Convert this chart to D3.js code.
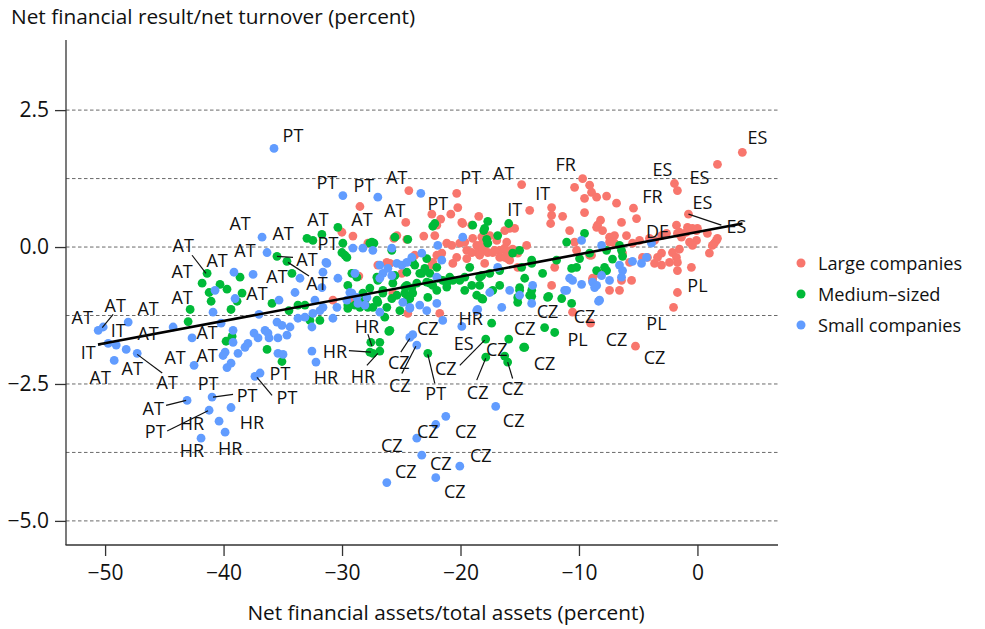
<!DOCTYPE html>
<html><head><meta charset="utf-8">
<script src="https://cdn.jsdelivr.net/npm/d3@7"></script>
<style>body{margin:0;background:#fff}text{font-family:"Open Sans","Noto Sans",sans-serif;fill:#111}</style>
</head><body><svg id="c" width="985" height="629"></svg>
<script>
const seriesNames = ["Large companies","Medium\u2013sized","Small companies"];
const seriesColors = ["#F8766D","#00BA38","#619CFF"];
const xTicks = [-50,-40,-30,-20,-10,0];
const yTicks = [2.5,0,-2.5,-5];
const yGrid = [2.5,1.25,0,-1.25,-2.5,-3.75,-5];
const xTitle = "Net financial assets/total assets (percent)";
const yTitle = "Net financial result/net turnover (percent)";
const fitLine = {x0:-50.6, x1:3.8, intercept:0.274, slope:0.0406};

const largeCompanies = [[3.79,1.73],[1.69,1.51],[-1.94,1.16],[-1.69,1.03],[-0.76,0.60],[-9.69,1.25],[-10.37,1.09],[-9.10,1.13],[-8.94,1.00],[-9.53,0.89],[-8.51,0.91],[-7.67,0.93],[-6.83,0.80],[-5.40,0.71],[-5.14,0.52],[-6.41,0.45],[-8.18,0.49],[-8.43,0.40],[-10.79,0.30],[-9.53,0.63],[-12.31,0.72],[-12.31,0.58],[-12.39,0.43],[-11.38,0.56],[-14.84,1.14],[-14.16,0.67],[-24.36,1.03],[-28.49,0.74],[-24.62,0.45],[-22.42,0.60],[-20.32,0.98],[-20.23,0.72],[-20.82,0.60],[-21.67,0.51],[-19.89,0.45],[-18.46,0.56],[-30.01,0.27],[-29.08,0.20],[-27.82,0.07],[-25.63,0.16],[-25.37,0.21],[-24.53,0.14],[-23.10,0.20],[-22.17,0.21],[-21.16,0.07],[-20.74,0.03],[-20.06,0.07],[-19.64,0.09],[-18.97,0.16],[-18.63,0.03],[-18.21,0.05],[-19.47,-0.06],[-19.05,-0.10],[-18.55,-0.10],[-18.12,-0.06],[-17.70,-0.10],[-17.28,-0.10],[-16.69,-0.06],[-16.10,-0.10],[-15.60,-0.04],[-15.17,-0.11],[-14.42,0.03],[-20.32,-0.19],[-20.65,-0.30],[-21.58,-0.11],[-22.00,-0.15],[-22.42,-0.33],[-19.47,-0.21],[-18.38,-0.15],[-16.69,-0.19],[-16.02,-0.21],[-17.96,-0.30],[-23.86,-0.15],[-25.96,-0.30],[-28.58,-0.53],[-29.34,-0.97],[-25.71,-0.84],[-24.45,-1.21],[-21.75,-1.21],[-30.77,-0.97],[-26.22,-0.28],[-26.98,-0.33],[-24.95,-0.48],[-22.34,-0.28],[-15.85,0.34],[-16.27,0.30],[-15.43,0.34],[-19.81,0.43],[-19.05,0.40],[-22.00,0.40],[-10.37,0.09],[-10.20,-0.06],[-9.10,-0.15],[-8.85,-0.57],[-8.35,-0.48],[-12.05,-0.37],[-12.31,-0.70],[-16.10,0.09],[-16.27,-0.02],[-16.27,-0.19],[-17.11,-0.06],[-16.94,0.12],[-17.96,0.03],[-17.53,0.21],[-18.21,0.18],[-15.85,-0.24],[-15.17,-0.37],[-8.94,-0.15],[-8.51,0.36],[-8.01,0.30],[-7.42,0.18],[-7.00,0.21],[-5.99,0.21],[-7.42,0.09],[-7.00,0.07],[-6.32,-0.11],[-5.73,-0.28],[-4.64,-0.19],[-4.22,-0.19],[-3.62,-0.30],[-3.03,-0.33],[-3.37,-0.19],[-3.03,-0.11],[-2.11,-0.10],[-1.77,-0.19],[-1.69,-0.28],[-2.36,-0.28],[-1.69,-0.43],[-0.51,-0.37],[-1.52,0.27],[-1.35,0.18],[-0.08,0.30],[-0.08,0.12],[-0.67,0.09],[-0.42,0.03],[-1.52,-0.04],[1.01,-0.11],[0.84,0.25],[1.60,0.12],[1.43,0.07],[1.69,0.16],[-1.69,-0.83],[-2.02,-1.10],[-5.48,0.07],[-4.89,0.12],[-4.05,0.16],[-3.62,0.12],[-6.41,-0.61],[-6.58,-0.79],[-8.85,-0.61],[-7.42,-0.79],[-5.56,-0.61],[-0.93,0.27],[-2.61,0.25],[-3.03,0.21],[-1.69,0.25],[-0.84,0.36],[0.00,0.34],[-0.42,0.34],[-1.77,0.40],[1.26,0.03],[-9.02,-1.39],[-5.23,-1.81],[-10.54,-1.19]];

const mediumSized = [[-35.49,-0.17],[-34.65,-0.26],[-41.39,-0.48],[-38.61,-0.55],[-41.81,-0.66],[-40.30,-0.68],[-39.71,-0.77],[-38.44,-0.84],[-41.22,-0.83],[-41.05,-0.99],[-38.86,-0.99],[-39.37,-1.14],[-35.91,-1.03],[-42.82,-1.14],[-42.99,-1.36],[-34.48,-1.16],[-39.28,-1.63],[-39.79,-1.72],[-36.33,-1.87],[-35.07,-2.09],[-25.80,-0.06],[-25.54,0.18],[-27.48,0.09],[-30.01,-0.10],[-29.93,0.07],[-29.17,-0.48],[-28.75,-0.55],[-27.06,-0.55],[-26.98,-0.61],[-29.51,-0.70],[-27.65,-0.75],[-26.55,-0.79],[-24.53,-0.70],[-24.11,-0.75],[-23.69,-0.66],[-23.27,-0.48],[-22.59,-0.48],[-23.01,-0.39],[-22.00,-0.37],[-24.03,-0.28],[-24.28,-0.94],[-24.70,-0.84],[-25.37,-0.88],[-25.80,-0.94],[-27.06,-0.97],[-27.40,-1.10],[-27.82,-1.10],[-28.49,-1.10],[-28.91,-1.06],[-29.51,-1.06],[-28.24,-0.84],[-25.12,-1.16],[-26.39,-1.28],[-25.96,-1.52],[-31.87,-1.34],[-32.71,-1.34],[-33.72,-1.06],[-31.70,0.23],[-30.35,0.36],[-32.96,0.16],[-32.46,0.12],[-27.65,0.07],[-27.31,0.07],[-29.76,-0.15],[-29.59,-0.19],[-24.45,0.14],[-22.34,0.38],[-18.97,0.40],[-17.70,0.47],[-18.04,0.30],[-17.79,0.14],[-16.86,0.21],[-15.93,0.43],[-15.60,-0.11],[-14.84,-0.37],[-14.58,-0.57],[-15.01,-0.74],[-13.99,-0.24],[-18.21,-0.52],[-19.05,-0.70],[-19.64,-0.79],[-18.63,-0.88],[-18.21,-0.94],[-17.28,-0.79],[-22.85,-0.21],[-23.86,-0.33],[-24.53,-0.46],[-23.44,-0.48],[-22.85,-0.64],[-22.34,-0.70],[-21.92,-0.57],[-21.16,-0.66],[-20.65,-0.61],[-20.06,-0.61],[-19.64,-0.55],[-25.54,-0.52],[-24.03,-0.84],[-24.53,-0.97],[-24.70,-0.73],[-25.71,-0.66],[-26.55,-0.84],[-28.07,-0.97],[-28.66,-1.01],[-26.22,-1.10],[-22.76,-0.92],[-22.00,-0.79],[-29.51,-1.12],[-26.98,-1.01],[-33.13,-1.06],[-34.23,-0.48],[-22.17,0.43],[-17.96,0.34],[-17.70,0.07],[-15.01,-0.06],[-13.99,-0.30],[-13.07,-0.48],[-11.04,0.09],[-9.53,0.25],[-9.95,-0.21],[-10.20,-0.37],[-10.62,-0.39],[-11.89,-0.24],[-19.22,-0.37],[-18.38,-0.55],[-17.53,-0.48],[-16.69,-0.43],[-20.91,-0.55],[-21.50,-0.61],[-22.59,-0.66],[-21.16,-0.73],[-18.38,-0.70],[-16.69,-0.70],[-15.01,-0.79],[-15.17,-0.92],[-14.16,-0.88],[-18.12,-0.95],[-12.65,-0.92],[-11.46,-0.94],[-17.37,-1.39],[-12.90,-1.47],[-7.67,-0.06],[-6.58,0.03],[-6.41,-0.06],[-6.32,-0.17],[-7.17,-0.22],[-7.84,-0.37],[-8.51,-0.43],[-7.67,-0.43],[-9.10,-0.11],[-12.05,-1.56],[-14.67,-1.83],[-13.99,-0.79],[-13.99,-0.90],[-10.62,-1.03],[-12.56,-0.90],[-27.57,-1.74],[-26.81,-1.74],[-27.65,-1.92],[-26.81,-1.90],[-27.40,-1.94],[-26.05,-1.54],[-22.76,-1.94],[-17.87,-1.68],[-15.93,-1.68],[-14.58,-1.83],[-17.87,-2.01],[-16.27,-1.99],[-16.02,-2.10],[-15.17,-1.01]];

const smallCompanies = [[-50.58,-1.52],[-50.16,-1.46],[-48.05,-1.37],[-44.26,-1.46],[-42.66,-1.66],[-40.21,-1.39],[-37.01,-1.23],[-49.74,-1.76],[-49.06,-1.79],[-48.22,-1.87],[-47.29,-1.94],[-49.23,-2.07],[-42.49,-2.16],[-39.87,-1.92],[-40.04,-1.98],[-39.71,-2.20],[-39.37,-2.12],[-39.20,-1.52],[-39.20,-1.74],[-38.78,-1.94],[-38.19,-1.83],[-37.94,-1.76],[-37.43,-1.57],[-37.09,-1.66],[-36.50,-1.52],[-36.25,-1.57],[-36.16,-1.66],[-35.49,-1.37],[-35.07,-1.43],[-35.41,-1.66],[-34.65,-1.61],[-35.41,-1.94],[-34.98,-1.96],[-37.35,-2.36],[-36.92,-2.30],[-43.08,-2.80],[-40.97,-2.74],[-39.37,-2.93],[-41.22,-2.98],[-40.38,-3.18],[-39.87,-3.38],[-41.90,-3.49],[-35.32,-0.97],[-36.75,0.18],[-36.33,-0.10],[-39.12,-0.46],[-37.51,-0.50],[-40.72,-0.79],[-39.03,-0.94],[-40.89,-1.19],[-35.74,1.80],[-29.93,0.94],[-26.98,0.91],[-23.35,0.98],[-31.36,-0.28],[-33.55,-0.57],[-30.35,-0.57],[-33.97,-0.83],[-29.34,-0.83],[-28.75,-0.92],[-27.90,-0.92],[-29.59,-0.97],[-30.43,-1.10],[-31.61,-1.10],[-31.87,-1.16],[-32.46,-1.21],[-33.13,-1.28],[-33.72,-1.30],[-34.39,-1.46],[-32.54,-1.46],[-30.77,-1.30],[-26.55,-0.48],[-26.13,-0.39],[-25.37,-0.30],[-24.95,-0.33],[-24.53,-0.28],[-24.11,-0.19],[-25.80,-0.52],[-26.81,-0.57],[-28.66,-1.03],[-24.87,-1.01],[-24.28,-1.10],[-23.44,-1.06],[-22.85,-1.16],[-22.00,-1.03],[-27.40,-0.06],[-23.27,-0.11],[-21.92,0.03],[-21.58,-0.24],[-22.00,-0.55],[-19.81,0.18],[-16.86,-0.37],[-15.85,-0.79],[-13.91,-0.70],[-15.01,-0.88],[-17.53,-0.83],[-18.63,-1.16],[-25.80,-0.02],[-28.24,-0.02],[-29.08,-0.02],[-26.81,-0.33],[-28.91,-0.48],[-29.17,-0.84],[-31.28,-0.30],[-31.61,-0.46],[-31.70,-0.74],[-32.29,-0.97],[-28.07,-1.06],[-26.81,-1.19],[-24.28,-1.12],[-13.99,-1.03],[-16.52,-1.10],[-10.79,-0.57],[-10.54,-0.61],[-11.21,-0.79],[-8.85,-0.64],[-8.51,-0.70],[-18.55,-1.14],[-19.89,-1.45],[-21.50,-1.34],[-9.78,0.12],[-8.09,0.03],[-3.88,0.07],[-5.48,-0.26],[-4.72,-0.30],[-4.30,-0.19],[-6.58,-0.33],[-6.32,-0.43],[-6.41,-0.55],[-7.42,-0.61],[-8.09,-0.52],[-8.68,-0.74],[-8.26,-0.97],[-11.04,-0.79],[-9.78,-0.68],[-8.35,-0.99],[-24.28,-1.65],[-24.03,-1.60],[-23.69,-1.79],[-32.54,-1.90],[-32.20,-2.10],[-17.03,-2.91],[-21.24,-3.09],[-22.09,-3.24],[-23.69,-3.49],[-23.27,-3.80],[-20.06,-4.00],[-22.09,-4.21],[-26.22,-4.30]];

const countryLabels = [["PT",-34.14,2.04],["PT",-31.28,1.18],["PT",-28.16,1.14],["AT",-25.37,1.27],["PT",-19.14,1.27],["AT",-16.35,1.36],["FR",-11.13,1.51],["IT",-13.07,0.98],["IT",-15.43,0.69],["PT",-21.92,0.80],["AT",-25.54,0.67],["AT",-32.03,0.52],["AT",-28.32,0.51],["ES",5.06,2.00],["ES",-2.95,1.42],["ES",0.17,1.27],["FR",-3.79,0.94],["ES",0.42,0.82],["DE",-3.37,0.30],["ES",3.29,0.38],["PL",0,-0.70],["PL",-3.46,-1.39],["CZ",-6.83,-1.67],["CZ",-3.62,-2.01],["CZ",-9.53,-1.25],["PL",-10.12,-1.67],["CZ",-12.65,-1.17],["CZ",-14.58,-1.47],["CZ",-12.90,-2.12],["CZ",-16.94,-1.87],["CZ",-15.60,-2.58],["CZ",-18.55,-2.65],["ES",-19.73,-1.76],["CZ",-21.24,-2.21],["PT",-22.09,-2.67],["CZ",-22.76,-1.48],["CZ",-25.21,-2.09],["CZ",-25.12,-2.52],["HR",-27.90,-1.45],["HR",-30.60,-1.89],["HR",-28.24,-2.36],["HR",-31.36,-2.38],["HR",-19.14,-1.30],["CZ",-15.51,-3.16],["CZ",-22.76,-3.36],["CZ",-19.56,-3.36],["CZ",-25.80,-3.62],["CZ",-21.67,-3.95],["CZ",-18.29,-3.80],["CZ",-24.62,-4.08],["CZ",-20.48,-4.46],["AT",-51.93,-1.28],["AT",-49.15,-1.06],["AT",-46.37,-1.12],["IT",-48.89,-1.52],["AT",-46.37,-1.57],["IT",-51.42,-1.92],["AT",-50.41,-2.38],["AT",-47.71,-2.20],["AT",-44.76,-2.47],["AT",-44.09,-2.01],["AT",-41.39,-1.98],["AT",-41.39,-1.56],["AT",-43.50,-0.92],["AT",-43.50,-0.43],["AT",-43.41,0.03],["AT",-40.55,-0.24],["AT",-38.19,-0.06],["AT",-38.61,0.43],["AT",-34.98,0.25],["AT",-37.18,-0.83],["AT",-35.49,-0.52],["PT",-41.31,-2.49],["PT",-38.02,-2.71],["AT",-45.94,-2.93],["PT",-45.77,-3.35],["HR",-42.66,-3.22],["HR",-37.60,-3.20],["HR",-42.66,-3.71],["HR",-39.45,-3.66],["PT",-35.24,-2.30],["PT",-34.65,-2.74],["PT",-31.19,0.07],["AT",-32.96,-0.21],["AT",-32.12,-0.66]];

const leaderLines = [[-0.76,0.60,2.02,0.40],[-15.60,-2.40,-16.02,-2.10],[-18.63,-2.43,-17.87,-2.03],[-20.06,-2.16,-17.96,-1.70],[-22.17,-2.49,-22.76,-1.96],[-25.04,-1.92,-24.28,-1.67],[-24.95,-2.31,-23.77,-1.81],[-27.82,-1.59,-27.48,-1.81],[-29.42,-1.89,-27.57,-1.92],[-27.90,-2.16,-26.98,-1.94],[-49.32,-1.23,-50.24,-1.47],[-50.58,-1.79,-49.91,-1.76],[-45.18,-2.30,-47.29,-1.96],[-42.66,-0.15,-41.48,-0.48],[-39.20,-2.69,-40.89,-2.74],[-44.85,-2.89,-43.16,-2.80],[-44.76,-3.36,-41.31,-2.99],[-35.91,-2.71,-37.18,-2.38],[-35.49,-0.17,-34.14,-0.19],[-34.56,-0.28,-32.79,-0.53]];

const svg = d3.select("#c");
const m = {l:66, r:778, t:40, b:545};
const x = d3.scaleLinear().domain([-53.3,6.8]).range([m.l,m.r]);
const y = d3.scaleLinear().domain([-5.44,3.78]).range([m.b,m.t]);
const axisCol = "#333";

// gridlines
svg.append("g").selectAll("line").data(yGrid).join("line")
  .attr("x1",m.l).attr("x2",m.r).attr("y1",d=>y(d)).attr("y2",d=>y(d))
  .attr("stroke","#444").attr("stroke-width",0.8).attr("stroke-dasharray","3.5,2.5");

// axes
const gx = svg.append("g").attr("transform",`translate(0,${m.b})`)
  .call(d3.axisBottom(x).tickValues(xTicks).tickSize(11).tickPadding(9).tickFormat(d3.format("d")));
const gy = svg.append("g").attr("transform",`translate(${m.l},0)`)
  .call(d3.axisLeft(y).tickValues(yTicks).tickSize(11).tickPadding(6).tickFormat(d3.format(".1f")));
[gx,gy].forEach(g=>{
  g.selectAll(".domain,line").attr("stroke",axisCol).attr("stroke-width",1.3);
  g.selectAll("text").style("font-size","21px").attr("fill","#111");
});
gx.select(".domain").attr("d",`M${m.l-0.5},0H${m.r}`);
gy.select(".domain").attr("d",`M0,${m.t}V${m.b}`);

// points
const series = [largeCompanies, mediumSized, smallCompanies];
series.forEach((s,i)=>{
  svg.append("g").selectAll("circle").data(s).join("circle")
    .attr("cx",d=>x(d[0])).attr("cy",d=>y(d[1])).attr("r",4.4)
    .attr("fill",seriesColors[i]);
});

// fit line
svg.append("line")
  .attr("x1",x(fitLine.x0)).attr("y1",y(fitLine.intercept+fitLine.slope*fitLine.x0))
  .attr("x2",x(fitLine.x1)).attr("y2",y(fitLine.intercept+fitLine.slope*fitLine.x1))
  .attr("stroke","#000").attr("stroke-width",2.6);

// leader lines
svg.append("g").selectAll("line").data(leaderLines).join("line")
  .attr("x1",d=>x(d[0])).attr("y1",d=>y(d[1])).attr("x2",d=>x(d[2])).attr("y2",d=>y(d[3]))
  .attr("stroke","#111").attr("stroke-width",1.2);

// labels
svg.append("g").selectAll("text").data(countryLabels).join("text")
  .attr("x",d=>x(d[1])).attr("y",d=>y(d[2])).attr("text-anchor","middle")
  .attr("dominant-baseline","central").style("font-size","18px").text(d=>d[0]);

// titles
svg.append("text").attr("x",11).attr("y",24).style("font-size","20.8px").text(yTitle);
svg.append("text").attr("x",446).attr("y",620).attr("text-anchor","middle").style("font-size","20.8px").text(xTitle);

// legend
const lg = svg.append("g");
seriesNames.forEach((n,i)=>{
  lg.append("circle").attr("cx",801).attr("cy",263+i*31).attr("r",4.5).attr("fill",seriesColors[i]);
  lg.append("text").attr("x",818).attr("y",263+i*31).attr("dominant-baseline","central").style("font-size","18.2px").text(n);
});
</script></body></html>
